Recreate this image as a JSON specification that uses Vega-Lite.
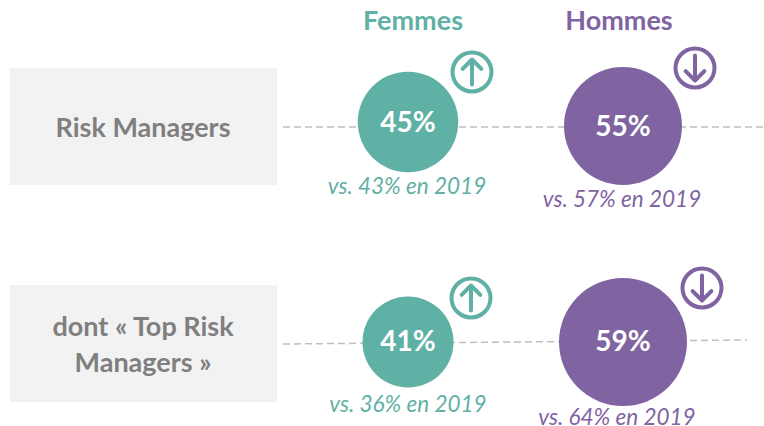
{"$schema":"https://vega.github.io/schema/vega-lite/v6.json","width":764,"height":426,"autosize":{"type":"fit","contains":"padding"},"padding":0,"background":"white","view":{"stroke":null},
"datasets":{"rows":[{"groupe":"Risk Managers","ligne":"Risk Managers","debut":"Femmes","fin":"Hommes"},{"groupe":"Top Risk Managers","ligne":"dont « Top Risk\nManagers »","debut":"Femmes","fin":"Hommes"}],
"vals":[{"groupe":"Risk Managers","sexe":"Femmes","part":45,"label":"45%","rappel":"vs. 43% en 2019","sens":"hausse"},{"groupe":"Risk Managers","sexe":"Hommes","part":55,"label":"55%","rappel":"vs. 57% en 2019","sens":"baisse"},{"groupe":"Top Risk Managers","sexe":"Femmes","part":41,"label":"41%","rappel":"vs. 36% en 2019","sens":"hausse"},{"groupe":"Top Risk Managers","sexe":"Hommes","part":59,"label":"59%","rappel":"vs. 64% en 2019","sens":"baisse"}]},
"data":{"name":"vals"},
"resolve":{"scale":{"xOffset":"independent","yOffset":"independent"}},
"encoding":{"x":{"field":"sexe","type":"nominal","axis":null,"scale":{"type":"point","padding":0,"domain":["Femmes","Hommes"],"range":[408,623]}},"y":{"field":"groupe","type":"nominal","axis":null,"scale":{"type":"point","padding":0,"domain":["Risk Managers","Top Risk Managers"],"range":[126,342]}}},
"layer":[
{"data":{"name":"rows"},"transform":[{"filter":"datum.groupe==='Risk Managers'"}],"mark":{"type":"bar","width":267,"height":117,"color":"#f2f2f2","xOffset":-264.5,"yOffset":0.5},"encoding":{"x":{"field":"debut","type":"nominal","axis":null}}},
{"data":{"name":"rows"},"transform":[{"filter":"datum.groupe!=='Risk Managers'"}],"mark":{"type":"bar","width":267,"height":117,"color":"#f2f2f2","xOffset":-264.5,"yOffset":1.5},"encoding":{"x":{"field":"debut","type":"nominal","axis":null}}},
{"data":{"name":"rows"},"transform":[{"filter":"datum.groupe==='Risk Managers'"}],"mark":{"type":"text","font":"Lato","fontWeight":"bold","fontSize":27,"color":"#7f7f7f","align":"center","baseline":"middle","xOffset":-265,"yOffset":3},"encoding":{"x":{"field":"debut","type":"nominal","axis":null},"text":{"field":"ligne"}}},
{"data":{"name":"rows"},"transform":[{"filter":"datum.groupe!=='Risk Managers'"}],"mark":{"type":"text","font":"Lato","fontWeight":"bold","fontSize":27,"color":"#7f7f7f","lineBreak":"\n","lineHeight":36,"align":"center","baseline":"middle","xOffset":-265,"yOffset":-14},"encoding":{"x":{"field":"debut","type":"nominal","axis":null},"text":{"field":"ligne"}}},
{"data":{"name":"rows"},"transform":[{"filter":"datum.groupe==='Risk Managers'"}],"mark":{"type":"rule","color":"#bfbfbf","strokeDash":[7,4],"strokeWidth":1.5,"xOffset":-125,"x2Offset":142,"yOffset":1},"encoding":{"x":{"field":"debut","type":"nominal","axis":null},"x2":{"field":"fin"}}},
{"data":{"name":"rows"},"transform":[{"filter":"datum.groupe!=='Risk Managers'"}],"mark":{"type":"rule","color":"#bfbfbf","strokeDash":[7,4],"strokeWidth":1.5,"xOffset":-125,"x2Offset":124,"yOffset":2,"y2Offset":-2},"encoding":{"x":{"field":"debut","type":"nominal","axis":null},"x2":{"field":"fin"},"y2":{"field":"groupe"}}},
{"mark":{"type":"circle","opacity":1},"encoding":{"size":{"field":"part","type":"quantitative","legend":null,"scale":{"domain":[41,45,55,59],"range":[8281,10100,13924,16384]}},"yOffset":{"field":"part","type":"quantitative","scale":{"domain":[41,45,55,59],"range":[0,-4,0,0]}},"color":{"field":"sexe","type":"nominal","legend":null,"scale":{"domain":["Femmes","Hommes"],"range":["#5fb0a5","#8064a2"]}}}},
{"mark":{"type":"text","font":"Lato","fontWeight":"bold","fontSize":28,"color":"white","align":"center","baseline":"middle"},"encoding":{"text":{"field":"label"},"yOffset":{"field":"part","type":"quantitative","scale":{"domain":[41,45,55,59],"range":[1,-2,2,1]}}}},
{"mark":{"type":"text","font":"Lato","fontStyle":"italic","fontSize":22.5,"align":"center","baseline":"middle"},"encoding":{"text":{"field":"rappel"},"yOffset":{"field":"part","type":"quantitative","scale":{"domain":[41,45,55,59],"range":[63,61,74,76]}},"xOffset":{"field":"part","type":"quantitative","scale":{"domain":[41,45,55,59],"range":[0,-1,-1,-6]}},"color":{"field":"sexe","type":"nominal","legend":null}}},
{"transform":[{"filter":"datum.groupe==='Risk Managers'"}],"mark":{"type":"text","font":"Lato","fontWeight":"bold","fontSize":27,"align":"center","baseline":"middle","yOffset":-104},"encoding":{"text":{"field":"sexe"},"xOffset":{"field":"part","type":"quantitative","scale":{"domain":[45,55],"range":[5,-4]}},"color":{"field":"sexe","type":"nominal","legend":null}}},
{"mark":{"type":"point","filled":false,"size":1521,"strokeWidth":4,"opacity":1,"shape":"circle"},"encoding":{"xOffset":{"field":"part","type":"quantitative","scale":{"domain":[41,45,55,59],"range":[63,64,72,79]}},"yOffset":{"field":"part","type":"quantitative","scale":{"domain":[41,45,55,59],"range":[-44,-54,-58,-54]}},"color":{"field":"sexe","type":"nominal","legend":null}}},
{"mark":{"type":"point","filled":false,"size":625,"strokeWidth":4,"opacity":1,"strokeCap":"round","strokeJoin":"round"},"encoding":{"shape":{"field":"sens","type":"nominal","legend":null,"scale":{"domain":["hausse","baisse"],"range":["M0,1 L0,-1 M-0.75,-0.25 L0,-1 L0.75,-0.25","M0,-1 L0,1 M-0.75,0.25 L0,1 L0.75,0.25"]}},"xOffset":{"field":"part","type":"quantitative","scale":{"domain":[41,45,55,59],"range":[63,64,72,79]}},"yOffset":{"field":"part","type":"quantitative","scale":{"domain":[41,45,55,59],"range":[-44,-54,-58,-54]}},"color":{"field":"sexe","type":"nominal","legend":null}}}
]}
